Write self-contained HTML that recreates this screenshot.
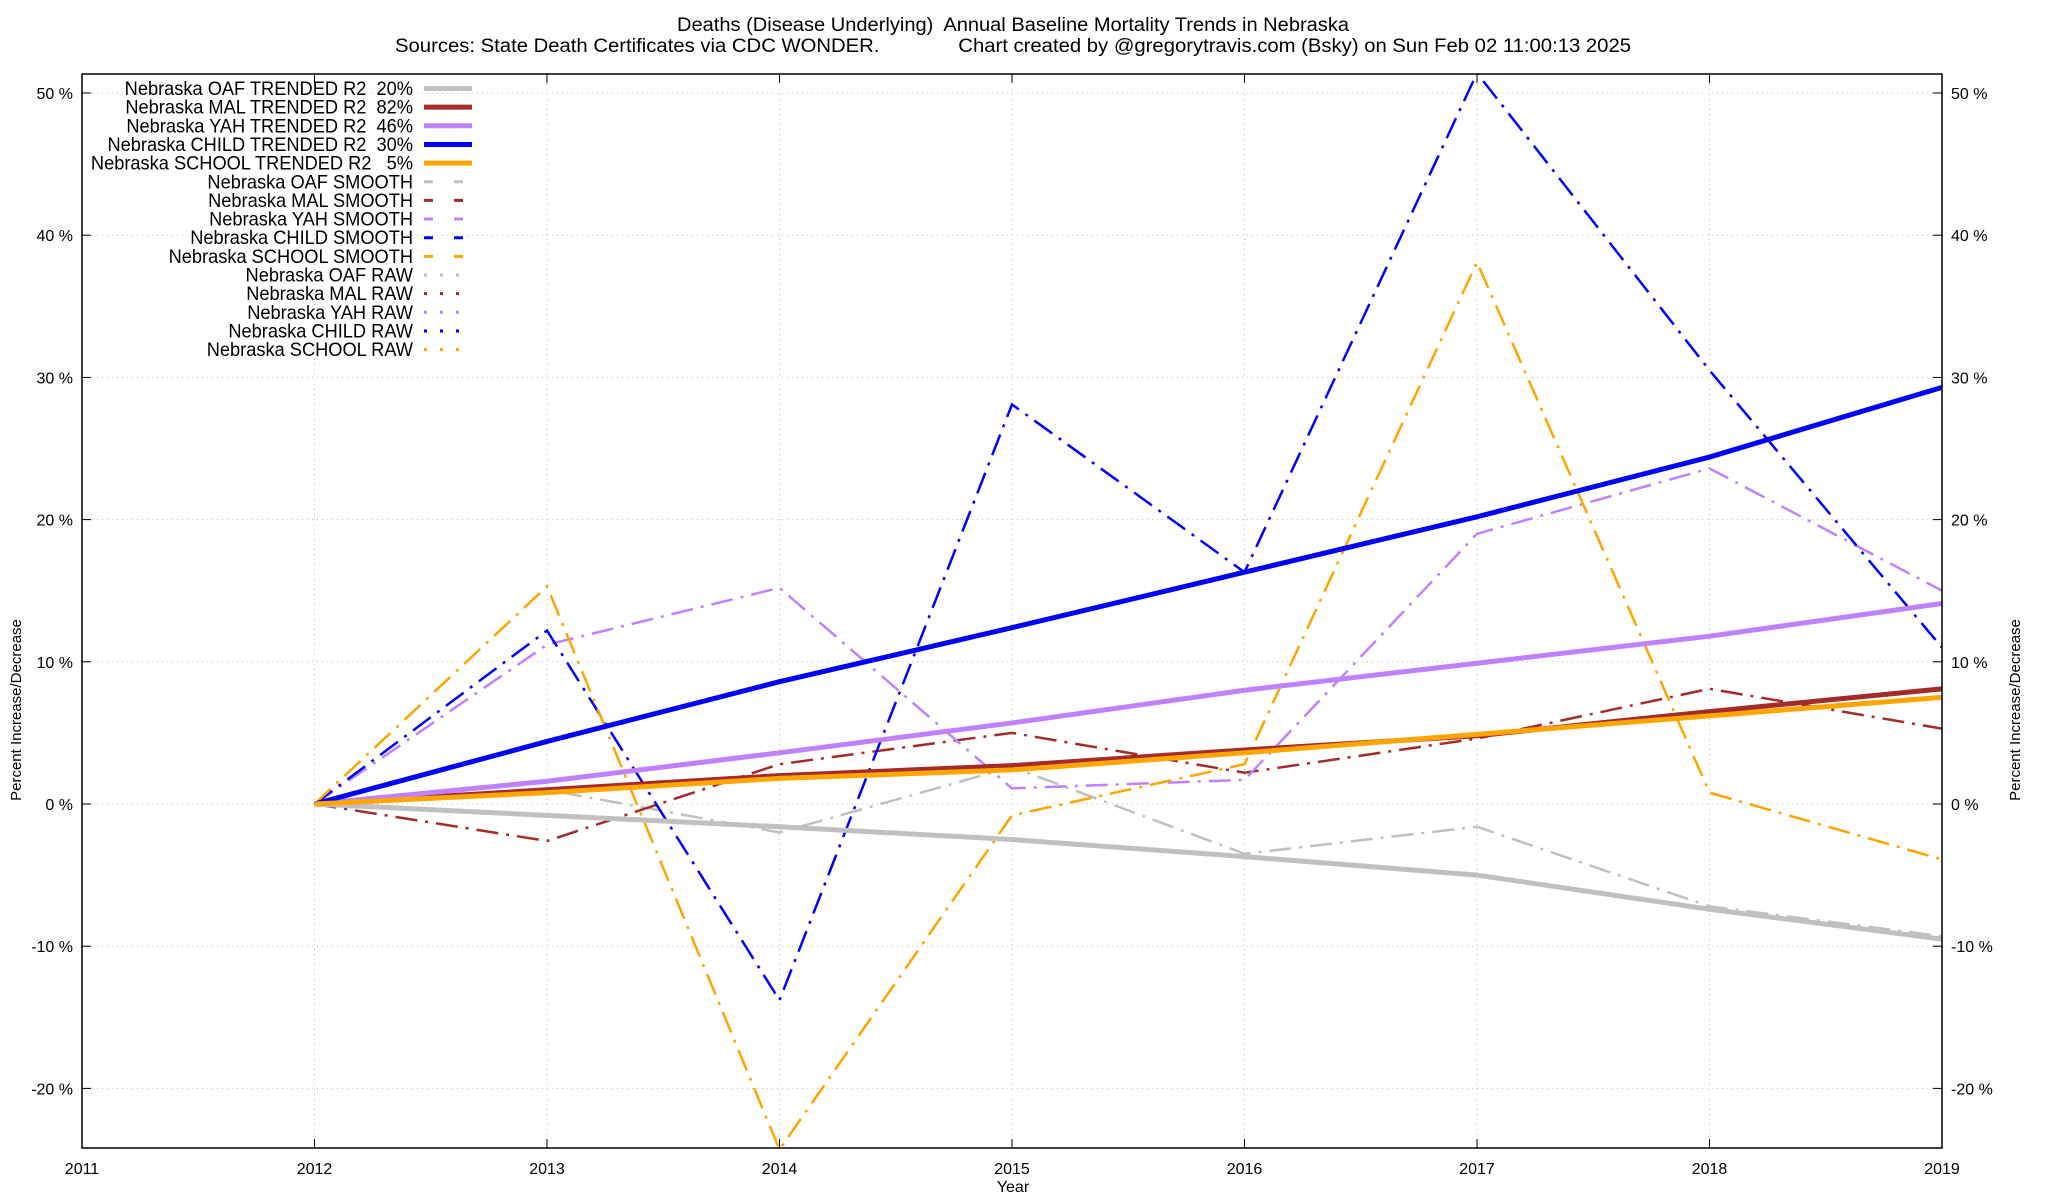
<!DOCTYPE html>
<html><head><meta charset="utf-8"><style>
html,body{margin:0;padding:0;background:#fff;}
svg{display:block;font-family:"Liberation Sans",sans-serif;}
text{white-space:pre;}
</style></head><body>
<svg id="s" width="2048" height="1200" xmlns="http://www.w3.org/2000/svg" xml:space="preserve">
<text x="1013" y="31" font-size="19" text-anchor="middle" textLength="672" lengthAdjust="spacingAndGlyphs">Deaths (Disease Underlying)  Annual Baseline Mortality Trends in Nebraska</text>
<text x="1013" y="52" font-size="19" text-anchor="middle" textLength="1236" lengthAdjust="spacingAndGlyphs">Sources: State Death Certificates via CDC WONDER.              Chart created by @gregorytravis.com (Bsky) on Sun Feb 02 11:00:13 2025</text>
</svg>
<script>
var s=document.getElementById('s'),NS='http://www.w3.org/2000/svg';
function el(t,a,txt){var e=document.createElementNS(NS,t);for(var k in a)e.setAttribute(k,a[k]);if(txt!=null)e.textContent=txt;s.appendChild(e);return e;}
var L=82,R=1942,T=74,B=1148;
function X(y){return L+(y-2011)*(R-L)/8;}
function Y(v){return 804-v*14.22;}
for(var v=-20;v<=50;v+=10){el('line',{x1:L,x2:R,y1:Y(v),y2:Y(v),stroke:'#bbb','stroke-width':1,'stroke-dasharray':'1,4'});
 el('line',{x1:L,x2:L+9,y1:Y(v),y2:Y(v),stroke:'#000'});el('line',{x1:R-9,x2:R,y1:Y(v),y2:Y(v),stroke:'#000'});
 el('text',{x:73,y:Y(v)+6,'font-size':16,'text-anchor':'end'},v+' %');
 el('text',{x:1951,y:Y(v)+6,'font-size':16},v+' %');}
for(var y=2011;y<=2019;y++){ if(y>2011&&y<2019){el('line',{x1:X(y),x2:X(y),y1:T,y2:B,stroke:'#bbb','stroke-width':1,'stroke-dasharray':'1,4'});
 el('line',{x1:X(y),x2:X(y),y1:T,y2:T+9,stroke:'#000'});el('line',{x1:X(y),x2:X(y),y1:B-9,y2:B,stroke:'#000'});}
 el('text',{x:X(y),y:1174,'font-size':16,'text-anchor':'middle'},y);}
el('text',{x:1013,y:1192,'font-size':16,'text-anchor':'middle'},'Year');
el('text',{x:0,y:0,'font-size':15,'text-anchor':'middle',transform:'translate(21,710) rotate(-90)'},'Percent Increase/Decrease');
el('text',{x:0,y:0,'font-size':15,'text-anchor':'middle',transform:'translate(2020,710) rotate(-90)'},'Percent Increase/Decrease');
var C={OAF:'#c0c0c0',MAL:'#a52a2a',YAH:'#c080ff',CHILD:'#0000ff',SCHOOL:'#ffa500'};
var tr={OAF:[0,-0.8,-1.6,-2.5,-3.7,-5,-7.4,-9.5],MAL:[0,1,2,2.7,3.8,4.8,6.5,8.1],YAH:[0,1.6,3.6,5.7,8,9.9,11.8,14.1],CHILD:[0,4.4,8.6,12.4,16.3,20.2,24.4,29.3],SCHOOL:[0,0.8,1.8,2.4,3.6,4.9,6.2,7.5]};
var sm={OAF:[0,1,-2,2.6,-3.5,-1.6,-7.2,-9.3],MAL:[0,-2.6,2.8,5,2.2,4.6,8.1,5.3],YAH:[0,11.2,15.2,1.1,1.7,19,23.6,15],CHILD:[0,12.2,-13.8,28.1,16.3,51.4,30.5,11],SCHOOL:[0,15.3,-24.3,-0.8,2.8,38.1,0.8,-3.9]};
function pts(a){return a.map(function(v,i){return X(2012+i)+','+Y(v);}).join(' ');}
var order=['OAF','MAL','YAH','CHILD','SCHOOL'];
var cp=el('clipPath',{id:'c'});var r=document.createElementNS(NS,'rect');r.setAttribute('x',L);r.setAttribute('y',T);r.setAttribute('width',R-L);r.setAttribute('height',B-T);cp.appendChild(r);
order.forEach(function(k){el('polyline',{points:pts(sm[k]),fill:'none',stroke:C[k],'stroke-width':2.5,'stroke-dasharray':'22,8,3,8','clip-path':'url(#c)'});});
order.forEach(function(k){el('polyline',{points:pts(tr[k]),fill:'none',stroke:C[k],'stroke-width':5,'clip-path':'url(#c)'});});
var labs=[['Nebraska OAF TRENDED R2  20%','OAF',0],['Nebraska MAL TRENDED R2  82%','MAL',0],['Nebraska YAH TRENDED R2  46%','YAH',0],['Nebraska CHILD TRENDED R2  30%','CHILD',0],['Nebraska SCHOOL TRENDED R2   5%','SCHOOL',0],
['Nebraska OAF SMOOTH','OAF',1],['Nebraska MAL SMOOTH','MAL',1],['Nebraska YAH SMOOTH','YAH',1],['Nebraska CHILD SMOOTH','CHILD',1],['Nebraska SCHOOL SMOOTH','SCHOOL',1],
['Nebraska OAF RAW','OAF',2],['Nebraska MAL RAW','MAL',2],['Nebraska YAH RAW','YAH',2],['Nebraska CHILD RAW','CHILD',2],['Nebraska SCHOOL RAW','SCHOOL',2]];
labs.forEach(function(l,i){var y=88.5+i*18.65;
 el('text',{x:0,y:0,'font-size':19,'text-anchor':'end',transform:'translate(413,'+(y+6.5)+') scale(0.96,1)'},l[0]);
 var a={x1:424,x2:472,y1:y,y2:y,stroke:C[l[1]]};
 if(l[2]==0)a['stroke-width']=5;else if(l[2]==1){a['stroke-width']=3;a['stroke-dasharray']='9,21,9';}else{a['stroke-width']=3;a['stroke-dasharray']='3,13';}
 el('line',a);});
el('rect',{x:L,y:T,width:R-L,height:B-T,fill:'none',stroke:'#000','stroke-width':1.5});
</script>
</body></html>
